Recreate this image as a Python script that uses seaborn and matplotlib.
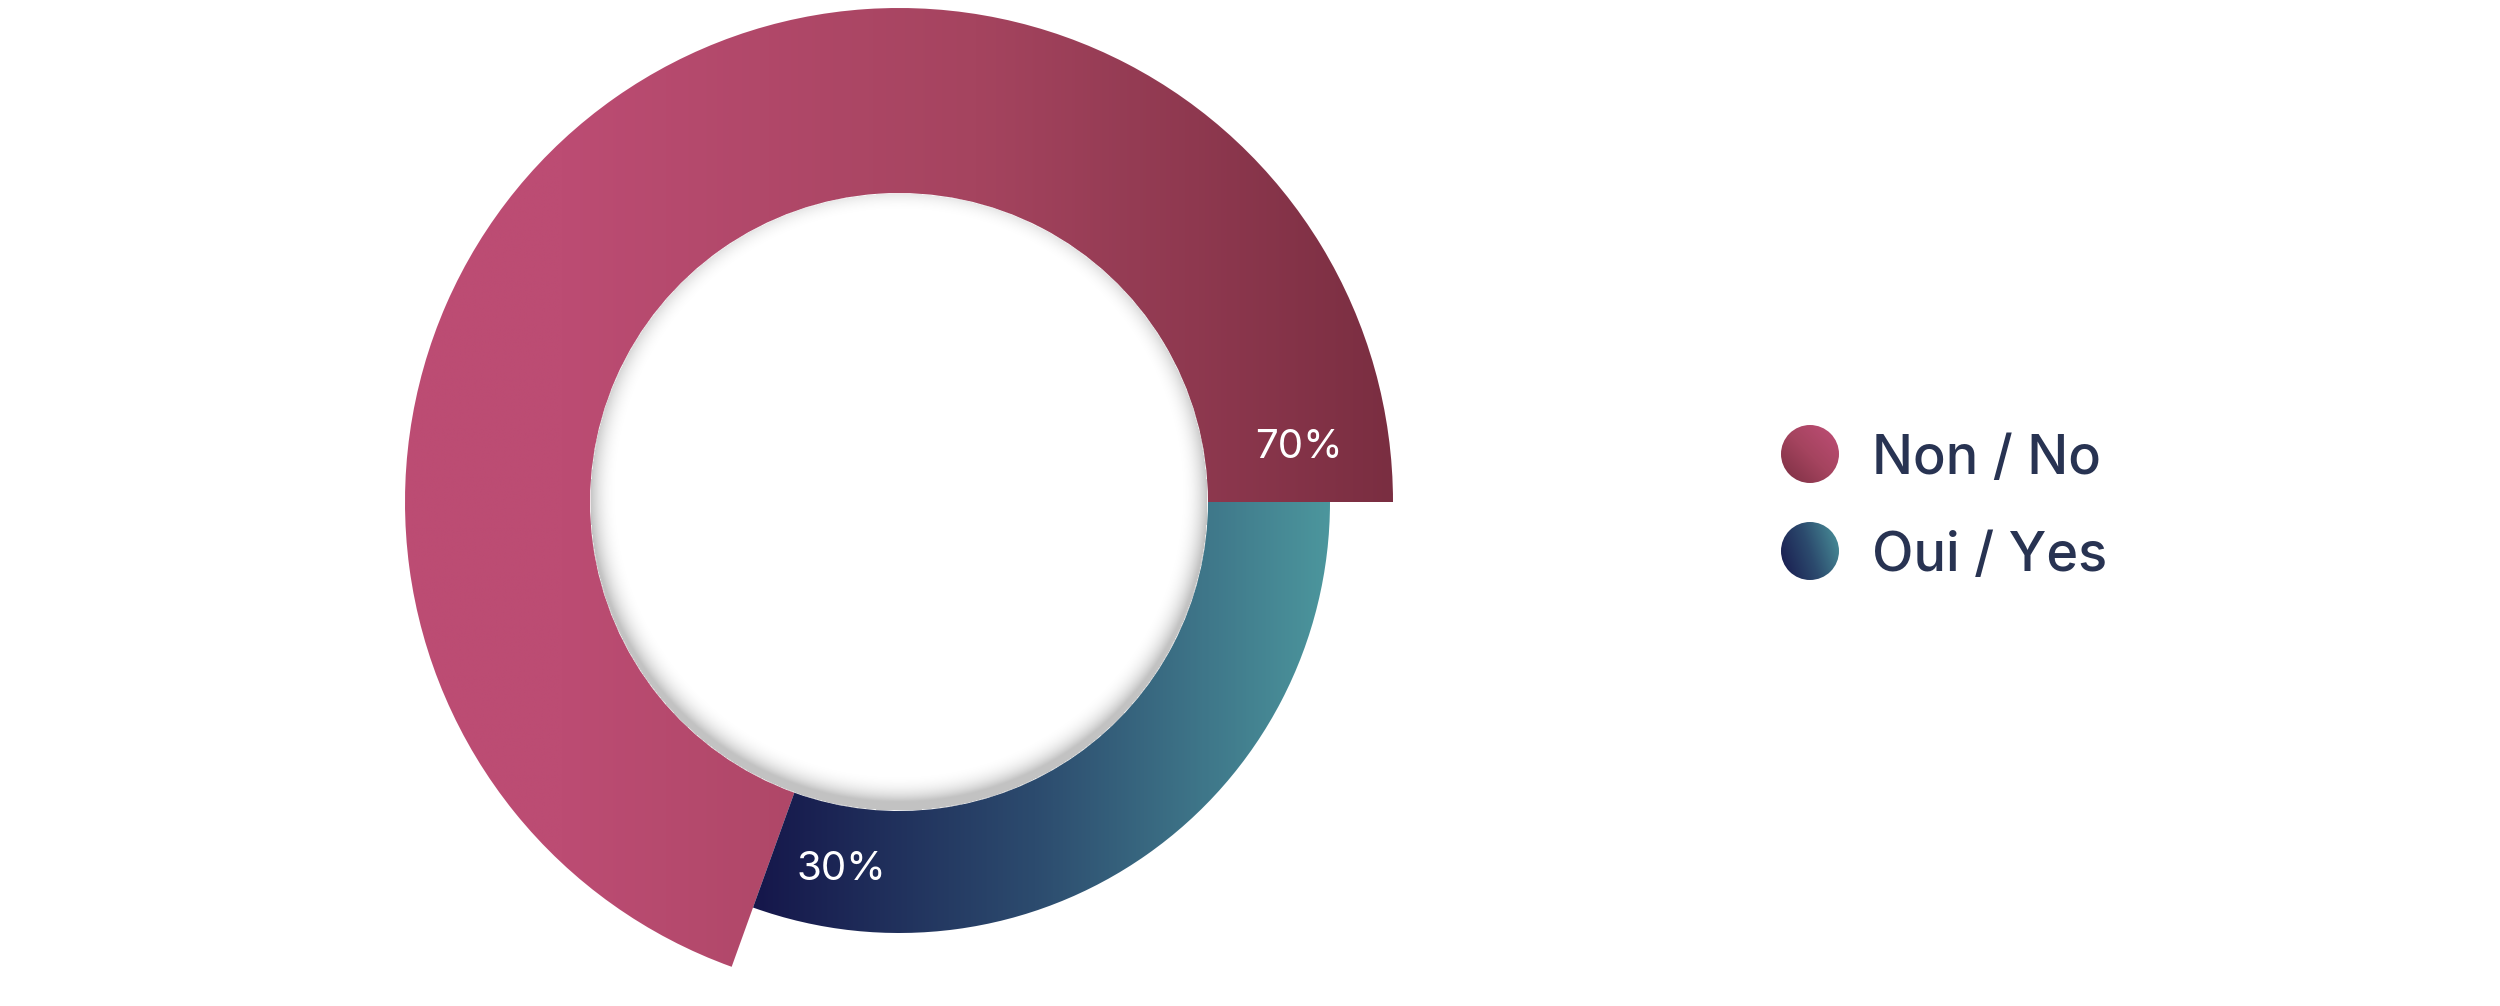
import numpy as np
import matplotlib
matplotlib.use("Agg")
import matplotlib.pyplot as plt
from matplotlib.patches import Wedge, Circle
import seaborn as sns

# ------------------------------------------------------------------
# data
# ------------------------------------------------------------------
categories = ["Non / No", "Oui / Yes"]
values = [69.5, 30.5]
labels = ["70%", "30%"]

# gradient stops per category
grad_colors = [["#bc4c73", "#a5445f", "#7a2e41"],
               ["#141449", "#2c4b6e", "#4c969d"]]
text_color = "#283352"

sns.set_theme(style="white")
plt.rcParams['font.family'] = ['Inter', 'DejaVu Sans']

# ------------------------------------------------------------------
# geometry (pixel units)
# ------------------------------------------------------------------
W, H = 2500, 1006
cx, cy = 899, 504
r_inner = 309
r_outer = [494, 431]
label_offset_deg = [7.7, 10.9]

fig = plt.figure(figsize=(W / 100, H / 100), dpi=100)
ax = fig.add_axes([0, 0, 1, 1])
ax.set_xlim(0, W)
ax.set_ylim(0, H)
ax.axis('off')

fracs = np.array(values, dtype=float) / sum(values)
theta_edges = np.concatenate([[0], np.cumsum(fracs) * 360])

# x range of each gradient
grad_x = [(560, 1394), (740, 1330)]

for i, cat in enumerate(categories):
    t1, t2 = theta_edges[i], theta_edges[i + 1]
    ro = r_outer[i]
    wedge = Wedge((cx, cy), ro, t1, t2, width=ro - r_inner,
                  facecolor='none', edgecolor='none')
    ax.add_patch(wedge)
    cmap = sns.blend_palette(grad_colors[i], as_cmap=True)
    xs = np.linspace(cx - ro, cx + ro, 600)
    g = np.clip((xs - grad_x[i][0]) / (grad_x[i][1] - grad_x[i][0]), 0, 1)
    img = np.tile(g, (20, 1))
    im = ax.imshow(img, cmap=cmap, vmin=0, vmax=1, aspect='auto',
                   extent=(cx - ro, cx + ro, cy - ro, cy + ro),
                   interpolation='bilinear', zorder=1)
    im.set_clip_path(wedge)

    # percentage label near the start of the slice
    ang = np.deg2rad(t1 + label_offset_deg[i])
    rm = (ro + r_inner) / 2 + 2
    ax.text(cx + rm * np.cos(ang), cy + rm * np.sin(ang), labels[i],
            color='white', fontsize=29, ha='center', va='center', zorder=5)

# inner shadow of the hole
n = 700
xs = np.linspace(cx - r_inner, cx + r_inner, n)
ys = np.linspace(cy - r_inner, cy + r_inner, n)
X, Y = np.meshgrid(xs, ys)
d_hole = np.hypot(X - cx, Y - cy)
d_sh = np.hypot(X - cx, Y - (cy + 9))
s = np.clip((d_sh - (r_inner - 30)) / 30, 0, 1) ** 2.5 * 0.24
alpha = np.where(d_hole <= r_inner, s, 0)
shade = np.zeros((n, n, 4))
shade[..., 3] = alpha
ax.imshow(shade, extent=(cx - r_inner, cx + r_inner, cy - r_inner, cy + r_inner),
          origin='lower', interpolation='bilinear', zorder=3)

# legend
leg_x, leg_y = 1810, [552, 455]
marker_cols = [["#7a2e41", "#a5445f", "#c04e77"],
               ["#17174c", "#2c4b6e", "#4c969d"]]
for i, cat in enumerate(categories):
    c = Circle((leg_x, leg_y[i]), 29, facecolor='none', edgecolor='none')
    ax.add_patch(c)
    cmap = sns.blend_palette(marker_cols[i], as_cmap=True)
    u = np.linspace(0, 1, 60)
    U, V = np.meshgrid(u, u)
    grad = (U + V) / 2 if i == 0 else (0.75 * U + 0.25 * V)
    im = ax.imshow(grad, cmap=cmap, origin='lower', aspect='auto',
                   extent=(leg_x - 30, leg_x + 30, leg_y[i] - 30, leg_y[i] + 30),
                   interpolation='bilinear', zorder=4)
    im.set_clip_path(c)
    ax.text(1872, leg_y[i], cat, color=text_color, fontsize=39,
            fontweight='medium', ha='left', va='center_baseline', zorder=5)

fig.savefig("out.png", dpi=100, facecolor='white')
